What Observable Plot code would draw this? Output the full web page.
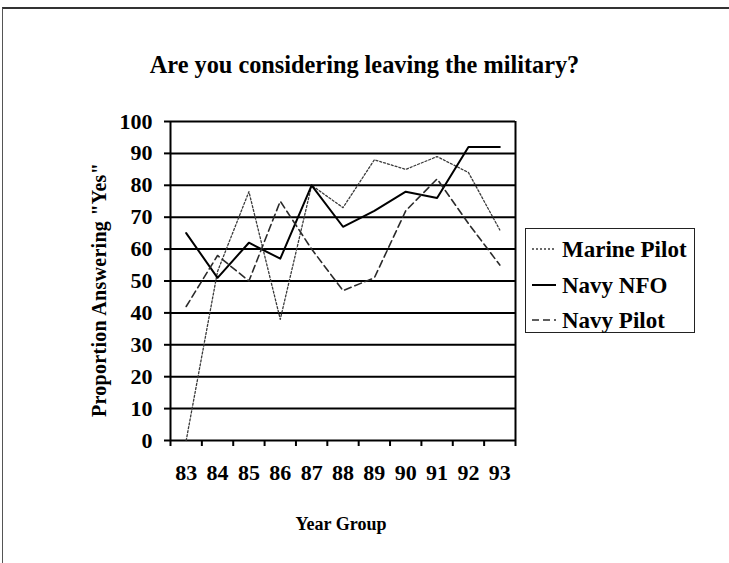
<!DOCTYPE html>
<html>
<head>
<meta charset="utf-8">
<script src="https://cdn.jsdelivr.net/npm/d3@7"></script>
<script src="https://cdn.jsdelivr.net/npm/@observablehq/plot@0.6"></script>
<style>
  html, body { margin: 0; padding: 0; background: #fff; width: 729px; height: 563px; overflow: hidden; }
  body { position: relative; font-family: "Liberation Serif", "Times New Roman", serif; font-weight: bold; color: #000; }
  #frame { position: absolute; left: 2px; top: 7px; width: 800px; height: 700px; border-top: 2px solid #333; border-left: 1.5px solid #555; }
  #chart { position: absolute; left: 0; top: 0; }
  #chart svg text { font-family: "Liberation Serif", "Times New Roman", serif; font-weight: bold; fill: #000; }
  #chart svg g[aria-label="y-axis tick"] path, #chart svg g[aria-label="y-axis"] line,
  #chart svg g[aria-label="x-axis tick"] path, #chart svg g[aria-label="x-axis"] line { stroke-width: 2; stroke: #000; }
  .t { position: absolute; white-space: nowrap; line-height: 1; }
  #title { left: 0; width: 729px; text-align: center; top: 53px; font-size: 24.3px; }
  #ylab { font-size: 20px; letter-spacing: 0.3px; left: 99px; top: 290px; transform: translate(-50%, -50%) rotate(-90deg); }
  #xlab { font-size: 18px; left: 341px; top: 524px; transform: translate(-50%, -50%); }
  #legend { position: absolute; left: 525px; top: 228px; width: 168px; height: 103px; border: 1.5px solid #222; }
  .lrow { position: absolute; left: 0; height: 30px; }
  .lrow svg { position: absolute; left: 6px; top: 0; }
  .lrow span { position: absolute; left: 36px; font-size: 23px; top: 3px; white-space: nowrap; }
</style>
</head>
<body>
<div id="frame"></div>
<div id="chart"></div>
<div id="title" class="t">Are you considering leaving the military?</div>
<div id="ylab" class="t">Proportion Answering "Yes"</div>
<div id="xlab" class="t">Year Group</div>
<div id="legend"></div>
<script>
// ---- data ----
const years = [83, 84, 85, 86, 87, 88, 89, 90, 91, 92, 93];
const seriesNames = ["Marine Pilot", "Navy NFO", "Navy Pilot"];
const marinePilot = [0, 53, 78, 38, 80, 73, 88, 85, 89, 84, 66];
const navyNFO = [65, 51, 62, 57, 80, 67, 72, 78, 76, 92, 92];
const navyPilot = [42, 58, 50, 75, 60, 47, 51, 72, 82, 68, 55];
const yTicks = [0, 10, 20, 30, 40, 50, 60, 70, 80, 90, 100];

// ---- derived ----
const valuesBySeries = [marinePilot, navyNFO, navyPilot];
const rows = [];
seriesNames.forEach((s, i) => years.forEach((yr, j) => rows.push({series: s, year: yr, value: valuesBySeries[i][j]})));
const bounds = years.map(y => y - 0.5).concat([years[years.length - 1] + 0.5]);

const styles = {
  "Marine Pilot": {stroke: "#3a3a3a", strokeWidth: 1.3, strokeDasharray: "2,2"},
  "Navy NFO": {stroke: "#000", strokeWidth: 2, strokeDasharray: null},
  "Navy Pilot": {stroke: "#2a2a2a", strokeWidth: 1.6, strokeDasharray: "7,4"}
};

const fontFam = '"Liberation Serif", "Times New Roman", serif';

const lineMarks = seriesNames.map(s => Plot.line(rows.filter(r => r.series === s), {
  x: "year", y: "value",
  stroke: styles[s].stroke, strokeWidth: styles[s].strokeWidth,
  strokeDasharray: styles[s].strokeDasharray || undefined
}));

const chart = Plot.plot({
  width: 729,
  height: 563,
  marginLeft: 170,
  marginRight: 214,
  marginTop: 121,
  marginBottom: 123,
  style: {background: "transparent", fontFamily: fontFam, fontSize: "22px", fontWeight: "bold", color: "#000", overflow: "visible"},
  x: {domain: [bounds[0], bounds[bounds.length - 1]], ticks: bounds, tickFormat: () => "", tickSize: 6, label: null},
  y: {domain: [0, 100], ticks: yTicks, tickSize: 6, tickPadding: 12, label: null},
  marks: [
    Plot.ruleY(yTicks, {stroke: "#000", strokeWidth: 2}),
    Plot.ruleX([bounds[0], bounds[bounds.length - 1]], {stroke: "#000", strokeWidth: 2}),
    Plot.text(years, {x: d => d, frameAnchor: "bottom", dy: 39, text: d => String(d), fontSize: 22, fontWeight: "bold", fontFamily: fontFam, fill: "#000"}),
    ...lineMarks
  ]
});
document.getElementById("chart").appendChild(chart);

// ---- legend ----
const legend = document.getElementById("legend");
const rowTops = [5, 41, 76];
seriesNames.forEach((s, i) => {
  const r = document.createElement("div");
  r.className = "lrow";
  r.style.top = rowTops[i] + "px";
  const st = styles[s];
  r.innerHTML = `<svg width="24" height="30"><line x1="0" x2="24" y1="15" y2="15" stroke="${st.stroke}" stroke-width="${st.strokeWidth}" ${st.strokeDasharray ? `stroke-dasharray="${st.strokeDasharray}"` : ""}/></svg><span>${s}</span>`;
  legend.appendChild(r);
});
</script>
</body>
</html>
